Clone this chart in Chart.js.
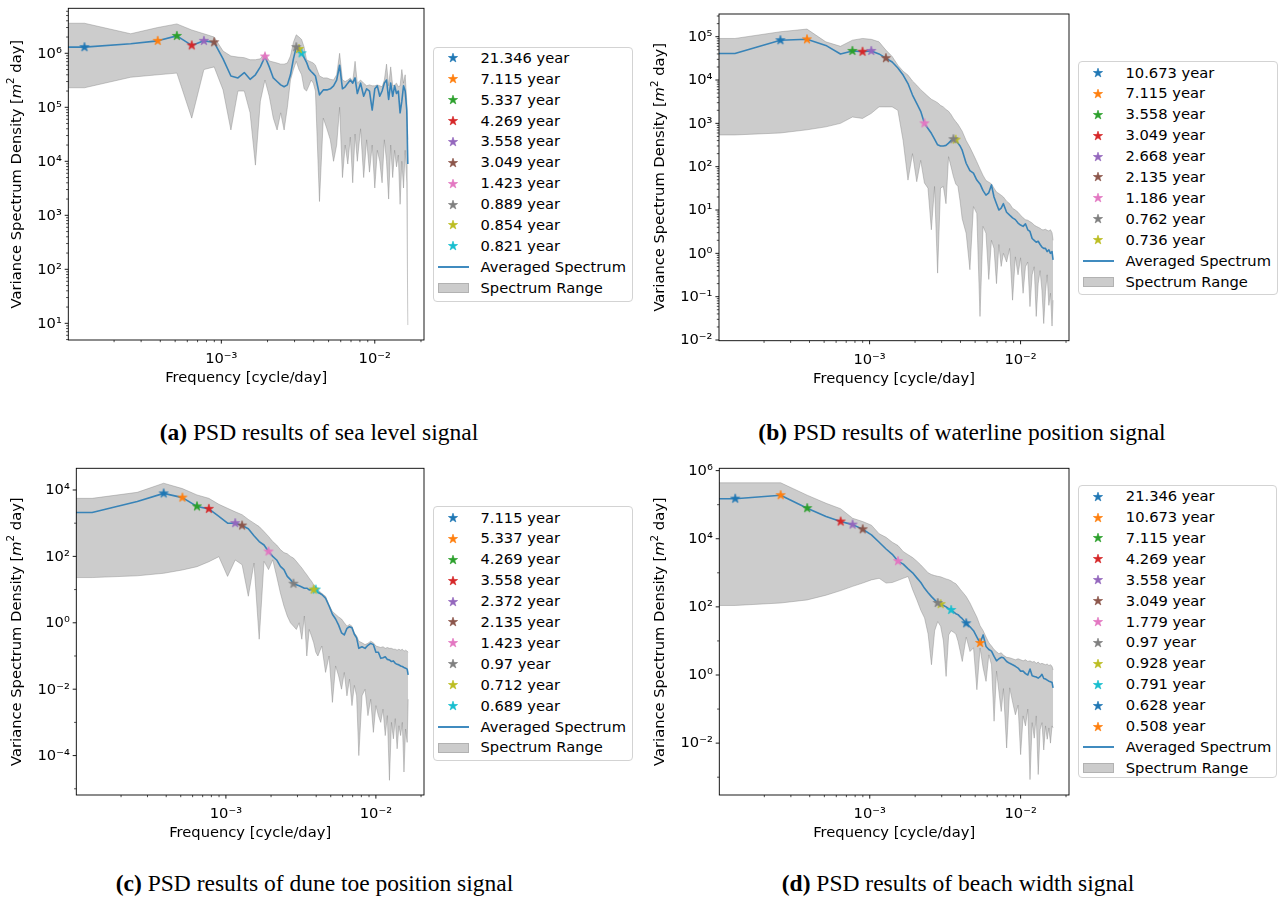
<!DOCTYPE html>
<html><head><meta charset="utf-8">
<script src="https://cdn.jsdelivr.net/npm/chart.js@4.4.0/dist/chart.umd.min.js"></script>
<style>
html,body{margin:0;padding:0;background:#fff;}
body{width:1280px;height:903px;position:relative;overflow:hidden;font-family:'DejaVu Sans',sans-serif;}
canvas.chart{position:absolute;}
.legend{position:absolute;box-sizing:border-box;border:1px solid #d3d3d3;border-radius:4px;background:#fff;}
.legend .lt{position:absolute;height:20.9px;line-height:20.9px;font-size:14.7px;font-family:'DejaVu Sans',sans-serif;color:#000;white-space:nowrap;}
.legend canvas{position:absolute;}
.legend .hl{position:absolute;height:2px;background:rgba(31,119,180,0.85);}
.legend .hp{position:absolute;box-sizing:border-box;background:rgba(128,128,128,0.4);border:1px solid rgba(128,128,128,0.35);}
.caption{position:absolute;font-family:'Liberation Serif','Times New Roman',serif;font-size:23.5px;line-height:23.5px;color:#000;white-space:nowrap;transform:translateX(-50%);}
</style></head><body>
<canvas class="chart" id="cA"></canvas>
<canvas class="chart" id="cB"></canvas>
<canvas class="chart" id="cC"></canvas>
<canvas class="chart" id="cD"></canvas>
<script>
// ---------------- data ----------------
const RECORD_YEARS = 21.346;          // record length -> fundamental period
const DAYS_PER_YEAR = 365.25;
// harmonic numbers k of the spectral estimates (k = 0 is the DC term)
const harmonics = [0,
  1,2,3,4,5,6,7,8,9,10,11,12,13,14,15,16,17,18,19,20,21,22,23,24,25,26,27,28,29,30,31,32,
  34,36,38,40,42,44,46,48,50,52,54,56,58,60,
  63,66,69,72,75,78,81,84,87,90,93,96,99,102,105,108,111,114,117,120,123,126,128];

// (a) sea level
const seaAvg = [1.3e6,
  1.3e6,1.5e6,1.7e6,2.1e6,1.4e6,1.7e6,1.6e6,7.9e5,3.8e5,3.5e5,
  4.4e5,3.3e5,4.0e5,5.6e5,8.7e5,5.6e5,3.5e5,3.0e5,2.6e5,2.4e5,
  2.6e5,4.0e5,7.9e5,1.3e6,1.2e6,1.0e6,8.3e5,6.8e5,5.2e5,4.6e5,4.2e5,3.8e5,
  1.7e5,2.1e5,2.1e5,2.2e5,2.5e5,3.2e5,6.0e5,2.2e5,2.4e5,2.8e5,3.2e5,2.8e5,3.5e5,1.8e5,
  2.8e5,1.6e5,2.2e5,2.0e5,8.9e4,2.2e5,2.5e5,1.6e5,2.0e5,2.8e5,3.2e5,1.4e5,2.8e5,1.6e5,2.5e5,1.8e5,2.0e5,7.9e4,1.3e5,2.5e5,2.0e5,8.9e4,
  8.9e3];
const seaMax = [3.6e6,
  3.6e6,2.3e6,3.0e6,3.5e6,2.7e6,2.3e6,2.0e6,1.1e6,8.9e5,8.5e5,
  8.3e5,7.6e5,7.6e5,7.9e5,1.0e6,7.2e5,6.9e5,6.6e5,6.3e5,6.3e5,
  6.6e5,8.9e5,1.6e6,2.2e6,2.0e6,1.8e6,1.3e6,7.6e5,7.2e5,6.9e5,6.6e5,6.0e5,
  3.8e5,3.5e5,3.5e5,3.3e5,3.2e5,4.0e5,1.0e6,3.2e5,3.0e5,3.2e5,3.5e5,3.0e5,7.1e5,2.8e5,
  3.2e5,2.8e5,2.5e5,2.6e5,2.5e5,2.5e5,2.6e5,2.5e5,2.4e5,3.2e5,6.3e5,2.5e5,5.6e5,2.5e5,2.6e5,2.8e5,2.4e5,2.5e5,5.0e5,2.8e5,4.0e5,1.3e5,
  2.5e4];
const seaMin = [2.3e5,
  2.3e5,3.6e5,4.0e5,4.3e5,6.3e4,5.0e5,5.6e5,2.1e5,3.8e4,2.0e5,
  2.0e5,7.9e4,8.5e3,1.3e5,3.2e5,1.6e5,6.3e4,3.8e4,7.9e4,3.8e4,
  1.0e5,3.2e5,5.0e5,7.1e5,5.0e5,4.0e5,2.2e5,2.0e5,2.5e5,3.2e5,2.8e5,2.0e5,
  1.8e3,6.3e4,4.0e4,2.5e4,1.0e4,2.0e4,1.0e5,5.0e3,2.0e4,8.9e3,2.8e4,4.0e3,3.2e4,1.0e4,
  4.0e4,5.0e3,2.5e4,6.3e3,2.0e4,3.2e3,1.6e4,1.0e4,4.0e3,2.5e4,1.0e4,2.0e3,2.0e4,5.0e3,1.6e4,7.9e3,1.3e4,1.6e3,1.0e4,3.2e3,1.6e4,4.0e3,
  9.3];
const seaPeakYears = [21.346,7.115,5.337,4.269,3.558,3.049,1.423,0.889,0.854,0.821];

// (b) waterline position
const waterAvg = [4.1e4,
  4.1e4,8.3e4,8.7e4,6.3e4,4.0e4,4.7e4,4.5e4,4.7e4,4.0e4,3.2e4,
  2.6e4,1.9e4,1.3e4,8.3e3,4.5e3,2.9e3,1.9e3,1.0e3,7.6e2,5.9e2,
  4.3e2,3.2e2,3.0e2,3.0e2,3.1e2,3.5e2,4.0e2,4.3e2,4.2e2,3.5e2,3.0e2,2.4e2,
  1.2e2,81,71,49,40,28,22,25,38,20,14,10,11,14,
  8.9,7.6,6.6,6.0,5.0,4.5,4.2,4.8,3.5,3.2,2.2,2.0,1.8,1.9,1.6,1.4,1.3,1.3,1.1,1.2,1.0,1.1,
  0.71];
const waterMax = [9.1e4,
  9.1e4,1.3e5,1.5e5,7.6e4,6.0e4,8.3e4,9.1e4,8.7e4,7.6e4,4.9e4,
  3.5e4,2.2e4,1.6e4,1.3e4,9.5e3,7.6e3,6.0e3,5.0e3,4.2e3,3.6e3,
  3.3e3,3.0e3,2.6e3,2.4e3,2.1e3,1.9e3,1.6e3,1.3e3,1.1e3,9.5e2,7.9e2,6.6e2,
  4.0e2,2.8e2,1.9e2,1.3e2,89,63,48,44,40,32,26,24,22,20,
  16,14,11,10,8.9,7.6,6.6,6.0,5.8,5.4,5.0,4.5,4.2,4.0,3.8,3.5,3.5,3.6,3.4,3.3,3.5,3.0,
  2.0];
const waterMin = [5.4e2,
  5.4e2,6.0e2,7.1e2,8.3e2,1.0e3,1.4e3,1.3e3,1.7e3,2.4e3,2.4e3,
  2.4e3,2.0e3,4.0e2,49,2.0e2,45,1.4e2,42,32,3.5,
  35,0.35,32,35,14,1.7e2,1.0e2,59,40,35,16,6.3,
  2.9,0.42,12,8.3,0.035,4.2,2.9,0.25,2.0,1.3,0.20,1.6,0.50,1.0,
  0.63,1.3,0.083,0.83,0.32,0.79,0.12,0.49,0.63,0.059,0.32,0.49,0.035,0.20,0.40,0.14,0.024,0.13,0.32,0.063,0.12,0.021,
  0.083];
const waterPeakYears = [10.673,7.115,3.558,3.049,2.668,2.135,1.186,0.762,0.736];

// (c) dune toe position
const duneAvg = [2.1e3,
  2.1e3,4.5e3,7.9e3,5.9e3,3.2e3,2.7e3,1.6e3,1.0e3,1.0e3,8.5e2,
  6.8e2,4.2e2,2.8e2,2.2e2,1.4e2,1.0e2,78,50,40,25,
  20,15,14,13,12,11,11,9.8,10,10,10,8.3,
  7.1,5.5,3.2,1.8,1.3,0.85,0.50,0.43,0.68,0.76,0.71,0.45,0.35,0.17,
  0.19,0.17,0.21,0.24,0.22,0.13,0.13,0.085,0.089,0.095,0.079,0.076,0.068,0.071,0.060,0.056,0.054,0.050,0.048,0.045,0.043,0.040,
  0.027];
const duneMax = [5.6e3,
  5.6e3,8.5e3,1.6e4,1.1e4,7.1e3,5.6e3,3.7e3,2.8e3,2.2e3,1.8e3,
  1.3e3,1.0e3,7.9e2,5.6e2,4.0e2,2.8e2,2.2e2,1.6e2,1.3e2,1.2e2,
  1.0e2,89,71,56,45,35,28,22,18,14,12,10,
  7.6,6.3,3.5,2.2,1.8,1.5,1.3,1.0,0.79,0.89,0.79,0.50,0.40,0.28,
  0.25,0.22,0.24,0.28,0.25,0.20,0.19,0.18,0.19,0.17,0.18,0.17,0.17,0.16,0.16,0.15,0.16,0.15,0.16,0.14,0.15,0.14,
  0.13];
const duneMin = [23,
  23,26,31,39,49,69,98,25,78,56,
  6.3,63,0.32,71,40,79,25,7.9,3.2,1.6,
  1.0,0.79,0.63,1.0,0.32,1.6,0.10,0.63,0.40,0.25,0.13,0.10,
  0.20,0.032,0.10,0.0040,0.050,0.025,0.010,0.032,0.0063,0.020,0.0032,0.013,0.0063,1.0e-4,
  0.0063,0.010,0.0016,0.0050,5.0e-4,0.0032,0.0016,0.0010,0.0025,4.0e-4,0.0016,1.8e-5,0.0010,3.2e-4,0.0013,1.6e-4,7.9e-4,4.0e-4,0.0010,3.2e-5,6.3e-4,2.5e-4,
  0.0050];
const dunePeakYears = [7.115,5.337,4.269,3.558,2.372,2.135,1.423,0.97,0.712,0.689];

// (d) beach width
const beachAvg = [1.5e5,
  1.5e5,1.9e5,7.9e4,4.5e4,3.2e4,2.6e4,1.9e4,1.3e4,7.9e3,5.0e3,
  3.5e3,2.2e3,1.8e3,1.3e3,1.0e3,7.1e2,5.2e2,3.5e2,2.6e2,2.0e2,
  1.6e2,1.3e2,1.2e2,1.1e2,1.0e2,89,81,71,63,59,51,45,
  33,26,20,13,8.7,15,6.9,5.6,5.0,3.5,2.6,3.0,3.3,3.2,
  2.5,2.2,2.0,1.8,1.6,1.3,1.3,1.1,1.0,1.5,0.95,0.91,0.87,0.81,0.89,1.05,0.79,0.76,0.71,0.66,0.63,0.60,
  0.42];
const beachMax = [4.4e5,
  4.4e5,4.4e5,1.9e5,1.1e5,7.6e4,4.0e4,3.2e4,2.5e4,1.4e4,1.1e4,
  7.9e3,6.3e3,4.2e3,3.4e3,2.8e3,2.2e3,1.7e3,1.3e3,1.0e3,8.9e2,
  8.3e2,7.9e2,7.6e2,7.1e2,6.6e2,6.3e2,5.8e2,5.2e2,4.8e2,4.0e2,3.3e2,2.8e2,
  2.0e2,1.3e2,79,50,28,20,13,8.9,7.1,5.6,4.8,4.2,4.5,3.8,
  3.3,3.2,3.0,2.8,3.0,2.8,2.6,2.8,2.5,2.6,2.4,2.5,2.2,2.4,2.1,2.2,2.1,2.0,2.1,1.9,2.0,1.8,
  1.4];
const beachMin = [1.1e2,
  1.1e2,1.3e2,1.6e2,2.2e2,3.0e2,4.0e2,5.0e2,6.2e2,6.9e2,5.0e2,
  5.2e2,6.0e2,6.9e2,7.8e2,3.2e2,1.6e2,79,47,16,2.0,
  20,37,27,10,0.91,15,20,18,16,9.8,5.0,2.5,
  13,4.9,6.3,0.37,6.2,1.6,0.65,3.9,2.0,0.044,1.3,0.32,0.085,0.40,
  0.0072,0.42,0.16,0.068,0.13,0.0046,0.063,0.032,0.10,8.5e-4,0.040,0.014,0.063,0.0012,0.025,0.040,0.0063,0.032,0.013,0.028,0.010,0.032,
  0.028];
const beachPeakYears = [21.346,10.673,7.115,4.269,3.558,3.049,1.779,0.97,0.928,0.791,0.628,0.508];

// axis limits and tick labels
const xLimits = [1.006e-4, 2.093e-2];
const xTickLabels = [1e-3, 1e-2];
const seaYLimits = [4.91, 6.81e6];
const seaYTickLabels = [1e1,1e2,1e3,1e4,1e5,1e6];
const waterYLimits = [9.64e-3, 3.34e5];
const waterYTickLabels = [1e-2,1e-1,1e0,1e1,1e2,1e3,1e4,1e5];
const duneYLimits = [6.5e-6, 4.5e4];
const duneYTickLabels = [1e-4,1e-2,1e0,1e2,1e4];
const beachYLimits = [3.09e-4, 1.17e6];
const beachYTickLabels = [1e-2,1e0,1e2,1e4,1e6];

const TAB10 = ['#1f77b4','#ff7f0e','#2ca02c','#d62728','#9467bd','#8c564b','#e377c2','#7f7f7f','#bcbd22','#17becf'];
// ---------------------------------------------------------------

const FONT = "'DejaVu Sans', sans-serif";
Chart.defaults.font.family = FONT;
Chart.defaults.font.size = 14.7;
Chart.defaults.color = '#000';

const BASE_FREQ = 1 / (RECORD_YEARS * DAYS_PER_YEAR);   // cycle/day
const DC_FREQ_ON_LOG_AXIS = 1e-9;  // f = 0 cannot sit on a log axis: clipped far left, as matplotlib does

function starCanvas(color) {
  const c = document.createElement('canvas');
  c.width = 12; c.height = 12;
  const g = c.getContext('2d');
  const R = 4.8, r = R * 0.381966;
  g.beginPath();
  for (let i = 0; i < 10; i++) {
    const a = -Math.PI / 2 + i * Math.PI / 5;
    const rr = (i % 2) ? r : R;
    g.lineTo(6 + rr * Math.cos(a), 6 + rr * Math.sin(a));
  }
  g.closePath();
  g.fillStyle = color; g.fill();
  g.strokeStyle = color; g.lineWidth = 0.7; g.stroke();
  return c;
}

const SUP = {'-':'\u207B','0':'\u2070','1':'\u00B9','2':'\u00B2','3':'\u00B3','4':'\u2074','5':'\u2075','6':'\u2076','7':'\u2077','8':'\u2078','9':'\u2079'};
function decadeLabel(v) {
  const e = Math.round(Math.log10(v));
  return '10' + String(e).split('').map(ch => SUP[ch]).join('');
}
function minorTicks(lim, mode) {
  const out = [];
  const lo = Math.floor(Math.log10(lim[0])), hi = Math.ceil(Math.log10(lim[1]));
  for (let d = lo; d <= hi; d++) {
    if (mode === 'subs') { for (let s = 2; s <= 9; s++) out.push(s * Math.pow(10, d)); }
    else if (mode === 'odd' && Math.abs(d) % 2 === 1) out.push(Math.pow(10, d));
  }
  return out.filter(v => v > lim[0] && v < lim[1]);
}

const frameTicks = {
  id: 'frameTicks',
  afterDraw(chart, args, o) {
    const {ctx, chartArea: a} = chart;
    const xs = chart.scales.x, ys = chart.scales.y;
    ctx.save();
    ctx.strokeStyle = '#000';
    const tick = (horiz, v, len, w) => {
      ctx.lineWidth = w;
      ctx.beginPath();
      if (horiz) { const p = xs.getPixelForValue(v); ctx.moveTo(p, a.bottom); ctx.lineTo(p, a.bottom + len); }
      else { const p = ys.getPixelForValue(v); ctx.moveTo(a.left, p); ctx.lineTo(a.left - len, p); }
      ctx.stroke();
    };
    o.xMinor.forEach(v => tick(true, v, 2.2, 0.7));
    o.xMajor.forEach(v => tick(true, v, 3.6, 0.9));
    o.yMinor.forEach(v => tick(false, v, 2.2, 0.7));
    o.yMajor.forEach(v => tick(false, v, 3.6, 0.9));
    ctx.lineWidth = 0.9;
    ctx.strokeRect(a.left, a.top, a.right - a.left, a.bottom - a.top);

    // y-axis title with italic m and superscript 2 (matplotlib mathtext look)
    const parts = [
      {t: 'Variance Spectrum Density [', f: '14.7px ' + FONT, dy: 0},
      {t: 'm', f: 'italic 14.7px ' + FONT, dy: 0},
      {t: '2', f: '10.3px ' + FONT, dy: -5},
      {t: ' day]', f: '14.7px ' + FONT, dy: 0}
    ];
    let total = 0;
    parts.forEach(p => { ctx.font = p.f; p.w = ctx.measureText(p.t).width; total += p.w; });
    ctx.translate(o.titleX, (a.top + a.bottom) / 2);
    ctx.rotate(-Math.PI / 2);
    ctx.fillStyle = '#000';
    ctx.textBaseline = 'middle';
    ctx.textAlign = 'left';
    let x = -total / 2;
    parts.forEach(p => { ctx.font = p.f; ctx.fillText(p.t, x, p.dy); x += p.w; });
    ctx.restore();
  }
};

function makePanel(P) {
  const cv = document.getElementById(P.id);
  cv.width = P.w; cv.height = P.h;
  cv.style.left = P.left + 'px'; cv.style.top = P.top + 'px';
  cv.style.width = P.w + 'px'; cv.style.height = P.h + 'px';

  const toPoints = arr => harmonics.map((k, i) => ({x: k === 0 ? DC_FREQ_ON_LOG_AXIS : k * BASE_FREQ, y: arr[i]}));
  const datasets = [];
  P.peaks.forEach((yr, j) => {
    const k = Math.round(RECORD_YEARS / yr);
    const i = harmonics.indexOf(k);
    datasets.push({
      label: yr + ' year', data: [{x: k * BASE_FREQ, y: P.avg[i]}],
      showLine: false, pointStyle: starCanvas(TAB10[j % 10]), pointRadius: 5, pointHoverRadius: 5, order: 0
    });
  });
  datasets.push({
    label: 'Averaged Spectrum', data: toPoints(P.avg), borderColor: 'rgba(31,119,180,0.85)',
    borderWidth: 1.6, pointRadius: 0, fill: false, tension: 0, borderJoinStyle: 'round', order: 1
  });
  datasets.push({
    label: 'Spectrum Range', data: toPoints(P.max), borderColor: 'rgba(128,128,128,0.4)',
    backgroundColor: 'rgba(128,128,128,0.4)', borderWidth: 1, pointRadius: 0, fill: '+1', tension: 0,
    borderJoinStyle: 'round', order: 2
  });
  datasets.push({
    label: 'Spectrum Range (min)', data: toPoints(P.min), borderColor: 'rgba(128,128,128,0.4)',
    borderWidth: 1, pointRadius: 0, fill: false, tension: 0, borderJoinStyle: 'round', order: 2
  });

  const yMajor = P.yTicks.filter(v => v >= P.yLim[0] && v <= P.yLim[1]);
  new Chart(cv, {
    type: 'line',
    data: {datasets},
    options: {
      responsive: false, animation: false, devicePixelRatio: 1, events: [],
      layout: {padding: {left: 0, top: P.padTop, right: P.padRight, bottom: 0}},
      plugins: {
        legend: {display: false}, tooltip: {enabled: false},
        frameTicks: {xMajor: xTickLabels, xMinor: minorTicks(xLimits, 'subs'), yMajor: yMajor,
                     yMinor: minorTicks(P.yLim, P.yMinorMode), titleX: P.yTitleX}
      },
      scales: {
        x: {
          type: 'logarithmic', position: 'bottom', min: xLimits[0], max: xLimits[1],
          afterBuildTicks: s => { s.ticks = xTickLabels.map(v => ({value: v, major: true})); },
          afterFit: s => { s.height = P.xAxisH; s.paddingLeft = 0; s.paddingRight = 0; },
          ticks: {autoSkip: false, maxRotation: 0, minRotation: 0, padding: 10.5, color: '#000', font: {size: 14.7}, callback: v => decadeLabel(v)},
          grid: {display: false, drawTicks: false}, border: {display: false},
          title: {display: true, text: 'Frequency [cycle/day]', color: '#000', font: {size: 14.7}, padding: {top: 0, bottom: P.xTitlePad}}
        },
        y: {
          type: 'logarithmic', position: 'left', min: P.yLim[0], max: P.yLim[1],
          afterBuildTicks: s => { s.ticks = yMajor.map(v => ({value: v, major: true})); },
          afterFit: s => { s.width = P.yAxisW; s.paddingTop = 0; s.paddingBottom = 0; },
          ticks: {autoSkip: false, padding: 6.5, labelOffset: 0.5, color: '#000', font: {size: 14.7}, callback: v => decadeLabel(v)},
          grid: {display: false, drawTicks: false}, border: {display: false},
          title: {display: false, text: 'Variance Spectrum Density [m\u00B2 day]'}
        }
      }
    },
    plugins: [frameTicks]
  });

  // legend
  const L = P.legend;
  const box = document.createElement('div');
  box.className = 'legend';
  Object.assign(box.style, {left: L.left + 'px', top: L.top + 'px', width: L.width + 'px', height: L.height + 'px'});
  const pitch = 20.9, first = 11.6 - 1, starX = 20 - 1, textX = 47.5 - 1;
  P.peaks.forEach((yr, i) => {
    const cy = first + i * pitch;
    const s = starCanvas(TAB10[i % 10]);
    s.style.left = (starX - 6) + 'px'; s.style.top = (cy - 6) + 'px';
    box.appendChild(s);
    const t = document.createElement('div');
    t.className = 'lt'; t.textContent = yr + ' year';
    t.style.left = textX + 'px'; t.style.top = (cy - pitch / 2) + 'px';
    box.appendChild(t);
  });
  const nl = P.peaks.length;
  const cyL = first + nl * pitch, cyP = first + (nl + 1) * pitch;
  const hl = document.createElement('div'); hl.className = 'hl';
  Object.assign(hl.style, {left: (4.5 - 1) + 'px', width: '31px', top: (cyL - 1) + 'px'});
  box.appendChild(hl);
  const tl = document.createElement('div'); tl.className = 'lt'; tl.textContent = 'Averaged Spectrum';
  tl.style.left = textX + 'px'; tl.style.top = (cyL - pitch / 2) + 'px'; box.appendChild(tl);
  const hp = document.createElement('div'); hp.className = 'hp';
  Object.assign(hp.style, {left: (4.5 - 1) + 'px', width: '31px', top: (cyP - 5.2) + 'px', height: '10.4px'});
  box.appendChild(hp);
  const tp = document.createElement('div'); tp.className = 'lt'; tp.textContent = 'Spectrum Range';
  tp.style.left = textX + 'px'; tp.style.top = (cyP - pitch / 2) + 'px'; box.appendChild(tp);
  document.body.appendChild(box);

  // caption
  const cap = document.createElement('div');
  cap.className = 'caption';
  cap.style.left = P.caption.x + 'px'; cap.style.top = P.caption.y + 'px';
  const b = document.createElement('b'); b.textContent = P.caption.tag;
  cap.appendChild(b);
  cap.appendChild(document.createTextNode(' ' + P.caption.text));
  document.body.appendChild(cap);
}

makePanel({id: 'cA', left: 0, top: 0, w: 430, h: 395, padTop: 8.3, padRight: 5.7, yAxisW: 68.3, xAxisH: 55,
  yTitleX: 16.7, xTitlePad: 8.2, avg: seaAvg, max: seaMax, min: seaMin, peaks: seaPeakYears,
  yLim: seaYLimits, yTicks: seaYTickLabels, yMinorMode: 'subs',
  legend: {left: 433, top: 46.7, width: 200, height: 255},
  caption: {x: 319, y: 421, tag: '(a)', text: 'PSD results of sea level signal'}});
makePanel({id: 'cB', left: 640, top: 0, w: 435, h: 395, padTop: 14, padRight: 4.7, yAxisW: 79, xAxisH: 54.3,
  yTitleX: 20, xTitlePad: 7.5, avg: waterAvg, max: waterMax, min: waterMin, peaks: waterPeakYears,
  yLim: waterYLimits, yTicks: waterYTickLabels, yMinorMode: 'subs',
  legend: {left: 1078, top: 61.4, width: 200, height: 234},
  caption: {x: 962, y: 421, tag: '(b)', text: 'PSD results of waterline position signal'}});
makePanel({id: 'cC', left: 0, top: 455, w: 430, h: 395, padTop: 13.3, padRight: 2.7, yAxisW: 76.3, xAxisH: 55,
  yTitleX: 16.7, xTitlePad: 8.2, avg: duneAvg, max: duneMax, min: duneMin, peaks: dunePeakYears,
  yLim: duneYLimits, yTicks: duneYTickLabels, yMinorMode: 'odd',
  legend: {left: 433, top: 506.4, width: 200, height: 255},
  caption: {x: 314.5, y: 872, tag: '(c)', text: 'PSD results of dune toe position signal'}});
makePanel({id: 'cD', left: 640, top: 455, w: 435, h: 395, padTop: 13.3, padRight: 5.7, yAxisW: 79.3, xAxisH: 55,
  yTitleX: 20, xTitlePad: 8.2, avg: beachAvg, max: beachMax, min: beachMin, peaks: beachPeakYears,
  yLim: beachYLimits, yTicks: beachYTickLabels, yMinorMode: 'odd',
  legend: {left: 1078.3, top: 485, width: 198.5, height: 292.7},
  caption: {x: 958, y: 872, tag: '(d)', text: 'PSD results of beach width signal'}});
</script>
</body></html>
